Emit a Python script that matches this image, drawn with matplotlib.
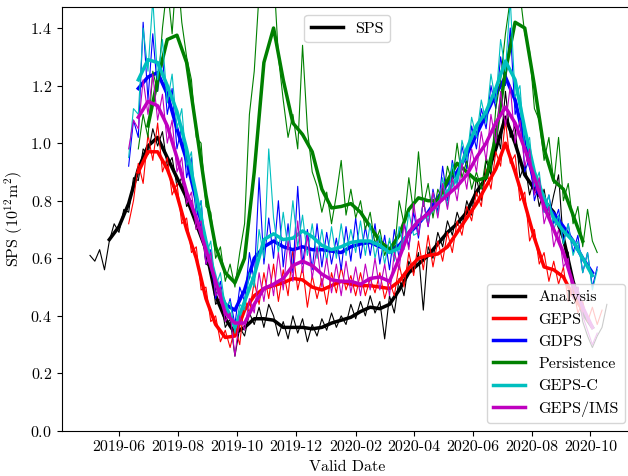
import matplotlib
matplotlib.use('Agg')
import matplotlib.pyplot as plt
import matplotlib.dates as mdates
from matplotlib.lines import Line2D
import pandas as pd

plt.rcParams['font.family'] = 'cmr10'
plt.rcParams['mathtext.fontset'] = 'cm'
plt.rcParams['axes.formatter.use_mathtext'] = True

# daily-ish values (every 5 days), raw series
analysis_raw_start = '2019-05-02'
analysis_raw = [0.61, 0.59, 0.63, 0.56, 0.66, 0.72, 0.69, 0.77, 0.76, 0.88,
                0.87, 0.98, 0.96, 1.05, 0.99, 1.04, 0.92, 0.95, 0.85, 0.88,
                0.78, 0.80, 0.70, 0.72, 0.58, 0.57, 0.44, 0.46, 0.36, 0.39,
                0.26, 0.36, 0.33, 0.41, 0.37, 0.43, 0.36, 0.44, 0.40, 0.33,
                0.38, 0.32, 0.40, 0.34, 0.39, 0.31, 0.37, 0.33, 0.39, 0.35,
                0.41, 0.36, 0.40, 0.37, 0.44, 0.39, 0.45, 0.40, 0.47, 0.41,
                0.45, 0.32, 0.47, 0.41, 0.53, 0.47, 0.59, 0.55, 0.62, 0.42,
                0.64, 0.60, 0.69, 0.64, 0.73, 0.68, 0.76, 0.71, 0.80, 0.75,
                0.88, 0.80, 0.94, 0.89, 1.05, 0.98, 1.18, 1.02, 1.06, 0.88,
                0.93, 0.82, 0.88, 0.78, 0.84, 0.74, 0.82, 0.89, 0.65, 0.62,
                0.48, 0.50, 0.38, 0.33, 0.29, 0.33, 0.36, 0.44]

fcst_raw_start = '2019-06-11'
geps_raw = [0.72, 0.80, 0.93, 0.86, 1.03, 0.94, 1.07, 0.90, 0.95, 0.82,
            0.86, 0.72, 0.74, 0.62, 0.64, 0.49, 0.50, 0.38, 0.40, 0.31,
            0.35, 0.29, 0.36, 0.30, 0.46, 0.41, 0.52, 0.44, 0.55, 0.46,
            0.58, 0.45, 0.56, 0.47, 0.63, 0.49, 0.57, 0.43, 0.54, 0.46,
            0.53, 0.44, 0.55, 0.48, 0.57, 0.49, 0.54, 0.47, 0.55, 0.47,
            0.53, 0.48, 0.55, 0.46, 0.52, 0.47, 0.58, 0.50, 0.62, 0.54,
            0.66, 0.56, 0.68, 0.57, 0.66, 0.59, 0.69, 0.62, 0.73, 0.68,
            0.78, 0.73, 0.83, 0.78, 0.91, 0.84, 0.97, 0.92, 1.08, 0.93,
            0.96, 0.80, 0.83, 0.66, 0.70, 0.58, 0.62, 0.52, 0.59, 0.51,
            0.57, 0.45, 0.50, 0.41, 0.45, 0.38, 0.43, 0.37, 0.42]
gdps_raw = [0.92, 1.08, 1.02, 1.42, 1.15, 1.38, 1.18, 1.30, 1.10, 1.19,
            0.98, 1.06, 0.88, 0.95, 0.74, 0.80, 0.58, 0.63, 0.46, 0.52,
            0.40, 0.46, 0.37, 0.50, 0.45, 0.62, 0.52, 0.88, 0.58, 0.74,
            0.60, 0.80, 0.57, 0.72, 0.55, 0.85, 0.58, 0.70, 0.56, 0.72,
            0.57, 0.69, 0.58, 0.67, 0.56, 0.71, 0.59, 0.74, 0.60, 0.71,
            0.61, 0.72, 0.58, 0.68, 0.56, 0.70, 0.60, 0.73, 0.64, 0.76,
            0.67, 0.80, 0.71, 0.84, 0.76, 0.92, 0.80, 0.94, 0.86, 0.99,
            0.91, 1.06, 0.98, 1.12, 1.05, 1.20, 1.12, 1.30, 1.20, 1.40,
            1.10, 1.16, 0.90, 0.95, 0.80, 0.86, 0.76, 0.82, 0.72, 0.77,
            0.66, 0.72, 0.62, 0.68, 0.55, 0.62, 0.50, 0.57]
gepsc_raw = [0.95, 1.12, 1.10, 1.40, 1.25, 1.50, 1.22, 1.36, 1.14, 1.24,
             1.05, 1.12, 0.92, 0.97, 0.76, 0.80, 0.61, 0.66, 0.50, 0.55,
             0.43, 0.45, 0.34, 0.44, 0.42, 0.55, 0.50, 0.70, 0.60, 0.98,
             0.74, 0.62, 0.76, 0.63, 0.80, 0.64, 0.75, 0.61, 0.72, 0.60,
             0.70, 0.59, 0.71, 0.60, 0.72, 0.61, 0.70, 0.62, 0.73, 0.61,
             0.72, 0.60, 0.68, 0.58, 0.67, 0.59, 0.71, 0.63, 0.76, 0.68,
             0.69, 0.80, 0.72, 0.83, 0.75, 0.88, 0.78, 0.93, 0.84, 1.01,
             0.94, 1.09, 1.02, 1.15, 1.07, 1.24, 1.14, 1.36, 1.25, 1.50,
             1.16, 1.20, 0.98, 1.02, 0.85, 0.90, 0.76, 0.82, 0.70, 0.75,
             0.65, 0.72, 0.61, 0.66, 0.55, 0.62, 0.49, 0.56]
gepsims_raw = [0.98, 1.08, 1.05, 1.22, 1.10, 1.24, 1.08, 1.17, 1.00, 1.08,
               0.90, 0.95, 0.79, 0.83, 0.70, 0.73, 0.58, 0.62, 0.47, 0.50,
               0.38, 0.41, 0.26, 0.40, 0.35, 0.46, 0.41, 0.55, 0.45, 0.58,
               0.47, 0.62, 0.49, 0.66, 0.52, 0.73, 0.55, 0.68, 0.53, 0.64,
               0.50, 0.60, 0.48, 0.58, 0.47, 0.59, 0.48, 0.57, 0.47, 0.58,
               0.49, 0.60, 0.49, 0.58, 0.47, 0.62, 0.56, 0.72, 0.63, 0.79,
               0.68, 0.80, 0.71, 0.83, 0.74, 0.86, 0.77, 0.88, 0.80, 0.93,
               0.84, 0.98, 0.90, 1.04, 0.94, 1.10, 1.00, 1.18, 1.06, 1.20,
               1.00, 1.08, 0.92, 0.98, 0.82, 0.88, 0.72, 0.78, 0.64, 0.70,
               0.57, 0.60, 0.46, 0.50, 0.40, 0.35, 0.30, 0.34]

persist_raw_start = '2019-06-21'
persist_raw = [0.98, 1.10, 1.02, 1.25, 1.18, 1.40, 1.55, 1.38, 1.62, 1.42,
               1.30, 1.22, 1.02, 1.00, 0.78, 0.76, 0.60, 0.64, 0.52, 0.58,
               0.50, 0.62, 0.72, 1.10, 1.25, 1.52, 1.70, 1.85, 1.60, 1.30,
               1.15, 1.02, 1.10, 0.98, 1.34, 1.05, 0.90, 0.85, 0.76, 0.83,
               0.72, 0.82, 0.94, 0.75, 0.84, 0.74, 0.80, 0.70, 0.76, 0.65,
               0.70, 0.61, 0.66, 0.62, 0.80, 0.72, 0.88, 0.76, 0.97, 0.78,
               0.86, 0.74, 0.84, 0.80, 0.92, 0.86, 1.00, 0.88, 0.94, 0.84,
               0.90, 0.84, 0.95, 0.90, 1.12, 1.22, 1.38, 1.50, 1.65, 1.52,
               1.38, 1.32, 1.12, 1.08, 0.94, 1.02, 0.86, 1.02, 0.80, 0.86,
               0.72, 0.78, 0.64, 0.77, 0.66, 0.62]

# smoothed series (every 10 days)
analysis_smooth_start = '2019-05-22'
analysis_smooth = [0.665, 0.71, 0.79, 0.91, 0.99, 1.02, 0.95, 0.88, 0.81, 0.72,
                   0.63, 0.47, 0.39, 0.34, 0.36, 0.39, 0.39, 0.385, 0.36, 0.36,
                   0.36, 0.355, 0.36, 0.375, 0.385, 0.395, 0.415, 0.43, 0.425, 0.44,
                   0.49, 0.55, 0.58, 0.61, 0.65, 0.69, 0.72, 0.76, 0.83, 0.88,
                   0.98, 1.09, 1.00, 0.89, 0.84, 0.80, 0.76, 0.67, 0.52, 0.41,
                   0.36]

fcst_smooth_start = '2019-06-21'
geps_smooth = [0.90, 0.97, 0.97, 0.91, 0.82, 0.70, 0.60, 0.46, 0.37, 0.325,
               0.33, 0.42, 0.47, 0.495, 0.505, 0.515, 0.53, 0.525, 0.50, 0.49,
               0.505, 0.52, 0.51, 0.505, 0.505, 0.50, 0.495, 0.52, 0.565, 0.60,
               0.61, 0.615, 0.64, 0.69, 0.74, 0.79, 0.85, 0.91, 1.00, 0.90,
               0.79, 0.67, 0.57, 0.56, 0.535, 0.47, 0.42]
gdps_smooth = [1.19, 1.23, 1.245, 1.17, 1.05, 0.94, 0.80, 0.65, 0.51, 0.44,
               0.42, 0.49, 0.60, 0.64, 0.66, 0.64, 0.63, 0.64, 0.63, 0.63,
               0.625, 0.62, 0.64, 0.65, 0.655, 0.64, 0.63, 0.645, 0.685, 0.72,
               0.76, 0.81, 0.86, 0.90, 0.96, 1.03, 1.10, 1.17, 1.23, 1.15,
               1.00, 0.86, 0.79, 0.755, 0.71, 0.66, 0.60, 0.55]
gepsc_smooth = [1.22, 1.29, 1.28, 1.20, 1.11, 0.98, 0.82, 0.66, 0.53, 0.44,
                0.36, 0.45, 0.54, 0.665, 0.685, 0.665, 0.67, 0.695, 0.675, 0.645,
                0.63, 0.64, 0.655, 0.66, 0.66, 0.645, 0.62, 0.635, 0.69, 0.73,
                0.75, 0.79, 0.83, 0.88, 0.98, 1.06, 1.11, 1.19, 1.285, 1.22,
                1.05, 0.90, 0.81, 0.74, 0.695, 0.66, 0.60, 0.54]
gepsims_smooth = [1.09, 1.145, 1.13, 1.06, 0.95, 0.83, 0.74, 0.63, 0.52, 0.41,
                  0.375, 0.375, 0.44, 0.495, 0.51, 0.53, 0.575, 0.59, 0.575, 0.545,
                  0.525, 0.52, 0.52, 0.51, 0.53, 0.535, 0.52, 0.60, 0.69, 0.73,
                  0.755, 0.79, 0.82, 0.85, 0.89, 0.95, 1.00, 1.07, 1.125, 1.07,
                  0.98, 0.88, 0.78, 0.70, 0.62, 0.51, 0.43, 0.36]

persist_smooth_start = '2019-07-01'
persist_smooth = [1.06, 1.22, 1.36, 1.375, 1.28, 1.05, 0.82, 0.64, 0.55, 0.515,
                  0.60, 0.90, 1.28, 1.40, 1.22, 1.07, 1.03, 0.97, 0.84, 0.775,
                  0.78, 0.79, 0.76, 0.71, 0.66, 0.63, 0.68, 0.77, 0.81, 0.80,
                  0.80, 0.87, 0.93, 0.90, 0.87, 0.88, 1.02, 1.25, 1.42, 1.40,
                  1.20, 0.98, 0.87, 0.84, 0.75, 0.66]

labels = ['Analysis', 'GEPS', 'GDPS', 'Persistence', 'GEPS-C', 'GEPS/IMS']
colors = ['k', 'r', 'b', 'g', 'c', 'm']


def dates(start, vals, step):
    return pd.date_range(start, periods=len(vals), freq=step)


series = [
    (analysis_raw_start, analysis_raw, analysis_smooth_start, analysis_smooth),
    (fcst_raw_start, geps_raw, fcst_smooth_start, geps_smooth),
    (fcst_raw_start, gdps_raw, fcst_smooth_start, gdps_smooth),
    (persist_raw_start, persist_raw, persist_smooth_start, persist_smooth),
    (fcst_raw_start, gepsc_raw, fcst_smooth_start, gepsc_smooth),
    (fcst_raw_start, gepsims_raw, fcst_smooth_start, gepsims_smooth),
]

fig = plt.figure(figsize=(6.28, 4.76), dpi=100)
ax = fig.add_axes([0.0987, 0.0945, 0.9092, 0.8908])

handles = []
for (rs, raw, ss, smooth), lab, col in zip(series, labels, colors):
    ax.plot(dates(rs, raw, '5D'), raw, color=col, lw=0.8)
    h, = ax.plot(dates(ss, smooth, '10D'), smooth, color=col, lw=2.5, label=lab)
    handles.append(h)

ax.set_xlim(pd.Timestamp('2019-04-03'), pd.Timestamp('2020-11-14'))
ax.set_ylim(0, 1.473)
ax.set_yticks([0.0, 0.2, 0.4, 0.6, 0.8, 1.0, 1.2, 1.4])
ax.xaxis.set_major_locator(mdates.MonthLocator(bymonth=[2, 4, 6, 8, 10, 12]))
ax.xaxis.set_major_formatter(mdates.DateFormatter('%Y-%m'))
ax.tick_params(labelsize=11.5)
ax.set_xlabel('Valid Date', fontsize=11.5, labelpad=4)
ax.set_ylabel(r'SPS ($10^{12}$m$^2$)', fontsize=11.5)

leg1 = ax.legend(handles=handles, loc='lower right', fontsize=11.5)
ax.add_artist(leg1)
ax.legend([Line2D([], [], color='k', lw=2.5)], ['SPS'], loc='upper center', fontsize=11.5)

fig.savefig('out.png', dpi=100)
